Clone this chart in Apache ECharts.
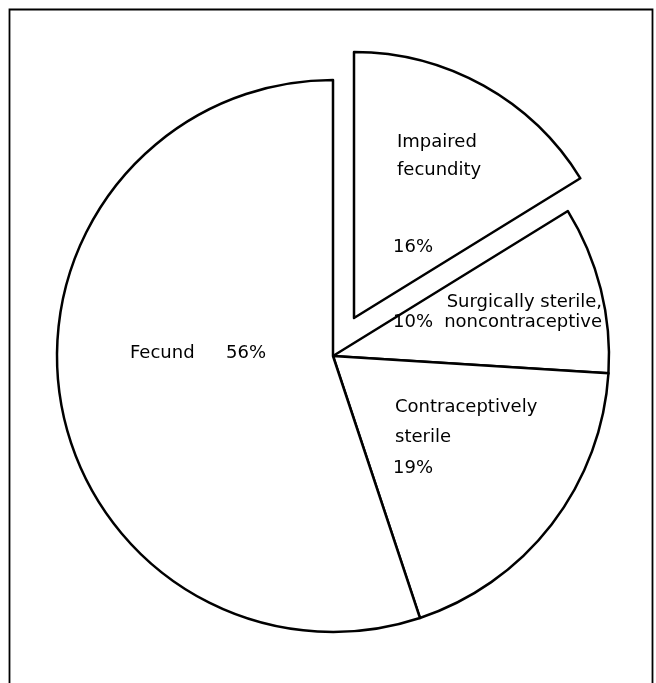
<!DOCTYPE html>
<html>
<head>
<meta charset="utf-8">
<script src="https://cdn.jsdelivr.net/npm/echarts@6/dist/echarts.min.js"></script>
<style>
html,body{margin:0;padding:0;background:#fff;}
#chart{width:656px;height:683px;}
</style>
</head>
<body>
<div id="chart"></div>
<script>
// Data (slice angles), clockwise from 12 o'clock
const categories = ['Impaired fecundity', 'Surgically sterile, noncontraceptive', 'Contraceptively sterile', 'Fecund'];
const values = [16.2, 9.8, 18.9, 55.1];
const percentLabels = ['16%', '10%', '19%', '56%'];
const explodedIndex = 0;

const chart = echarts.init(document.getElementById('chart'), null, {renderer: 'canvas'});

const FONT = 'DejaVu Sans';
const FS = 18;

function pieData(visibleFn) {
  return categories.map((name, i) => {
    const vis = visibleFn(i);
    return {
      name: name,
      value: values[i],
      itemStyle: vis
        ? {color: '#ffffff', borderColor: '#000000', borderWidth: 2.5}
        : {color: 'rgba(0,0,0,0)', borderColor: 'rgba(0,0,0,0)', borderWidth: 0}
    };
  });
}

function txt(x, y, s, align) {
  return {
    type: 'text', silent: true, z: 100,
    x: x, y: y,
    style: {
      text: s, fill: '#000',
      fontSize: FS, fontFamily: FONT,
      align: align || 'left', verticalAlign: 'middle'
    }
  };
}

const option = {
  backgroundColor: '#ffffff',
  animation: false,
  series: [
    {
      type: 'pie', silent: true,
      center: [333, 356], radius: 276,
      startAngle: 90, clockwise: true,
      label: {show: false}, labelLine: {show: false},
      emphasis: {disabled: true},
      data: pieData(i => i !== explodedIndex)
    },
    {
      type: 'pie', silent: true,
      center: [354, 318], radius: 266,
      startAngle: 90, clockwise: true,
      label: {show: false}, labelLine: {show: false},
      emphasis: {disabled: true},
      data: pieData(i => i === explodedIndex)
    }
  ],
  graphic: {
    elements: [
      {type: 'rect', silent: true, shape: {x: 9.5, y: 9.5, width: 643, height: 700},
       style: {fill: 'none', stroke: '#000', lineWidth: 1.8}},
      txt(397, 142, 'Impaired'),
      txt(397, 170, 'fecundity'),
      txt(393, 247, percentLabels[0]),
      txt(602, 302, 'Surgically sterile,', 'right'),
      txt(393, 322, percentLabels[1]),
      txt(602, 322, 'noncontraceptive', 'right'),
      txt(395, 407, 'Contraceptively'),
      txt(395, 437, 'sterile'),
      txt(393, 468, percentLabels[2]),
      txt(130, 353, 'Fecund'),
      txt(226, 353, percentLabels[3])
    ]
  }
};
chart.setOption(option);
</script>
</body>
</html>
